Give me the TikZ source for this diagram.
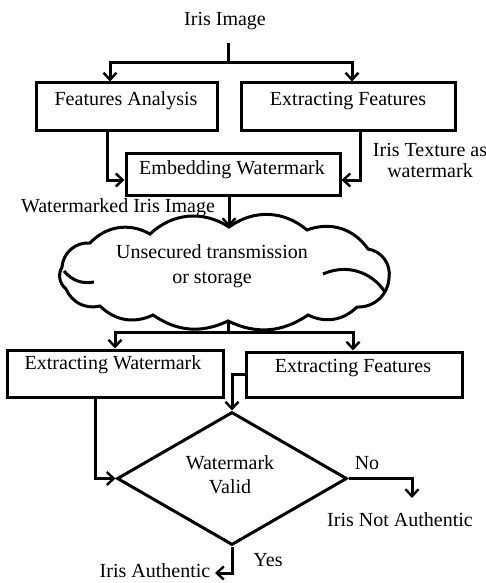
\documentclass[tikz,border=0pt]{standalone}
\usepackage{fontspec}
\setmainfont{Liberation Serif}
\usetikzlibrary{arrows.meta,shapes.geometric}
\begin{document}
\begin{tikzpicture}[x=1pt,y=-1pt,
  line width=3pt,
  every node/.style={font=\fontsize{20}{23}\selectfont},
  box/.style={draw,rectangle,inner sep=0pt},
  lbl/.style={inner sep=0pt,align=center},
  puff/.style={bend left=#1},
  puff/.default=38,
  arr/.style={-{Straight Barb[length=7pt,width=13pt,line width=2.4pt]}}]
\useasboundingbox (0,0) rectangle (486,583);
% top
\node[lbl] (img) at (225,21) {Iris Image};
\coordinate (stem1) at (228,43);
\coordinate (split1) at (228,63);
\node[box,minimum width=181pt,minimum height=47pt] (fa) at (126.5,106.5) {};
\node[lbl] (fat) at (126,101) {Features Analysis};
\node[box,minimum width=214pt,minimum height=47pt] (ef1) at (348,106.5) {};
\node[lbl] (ef1t) at (348,101) {Extracting Features};
\node[box,minimum width=214pt,minimum height=42pt] (emb) at (233,174) {};
\node[lbl] (embt) at (232,170) {Embedding Watermark};
\node[lbl] (tex) at (430,160) {Iris Texture as\\[-2pt]watermark};
\node[lbl] (wii) at (118,208) {Watermarked Iris Image};
% cloud
\coordinate (ctop) at (229,227);
\coordinate (cbot) at (228,321);
\draw (62,267) to[puff=45] (90,243) to[puff] (150,234) to[puff] (ctop)
  to[puff] (307,230) to[puff] (368,249) to[puff=45] (389,278)
  to[puff=45] (357,307) to[puff=35] (308,315) to[puff=30] (cbot)
  to[puff=30] (153,315) to[puff=35] (100,306) to[puff=40] (66,289) to[puff=40] cycle;
\draw (64,271) to[bend right=30] (94,282);
\draw (323,274) to[bend left=40] (385,292);
\node[lbl] (cloudt) at (212,266) {Unsecured transmission\\[2pt]or storage};
\coordinate (split2) at (228,332);
\node[box,minimum width=216pt,minimum height=47pt] (ew) at (115,373.5) {};
\node[lbl] (ewt) at (113,365) {Extracting Watermark};
\node[box,minimum width=216pt,minimum height=45pt] (ef2) at (354,374.5) {};
\node[lbl] (ef2t) at (353,368) {Extracting Features};
\node[diamond,draw,inner sep=0pt,minimum width=230pt,minimum height=133pt] (dia) at (232,478.5) {};
\node[lbl] (diat) at (230,475) {Watermark\\[1pt]Valid};
\node[lbl] (no) at (367,463) {No};
\node[lbl] (nia) at (400,520) {Iris Not Authentic};
\node[lbl] (yes) at (268,560) {Yes};
\node[lbl] (ia) at (155,571) {Iris Authentic};
\coordinate (noend) at (412,498);
\coordinate (yesend) at (215,573);
% connectors
\draw (stem1) -- (split1);
\draw[arr] (split1) -| ([xshift=-16.5pt]fa.north);
\draw[arr] (split1) -| ([xshift=4pt]ef1.north);
\draw[arr] ([xshift=-19.5pt]fa.south) |- ([yshift=-6pt]emb.west);
\draw[arr] ([xshift=12pt]ef1.south) |- ([yshift=-6pt]emb.east);
\draw[arr] (emb.south -| ctop) -- (ctop);
\draw (cbot) -- (split2);
\draw[arr] (split2) -| (ew.north);
\draw[arr] (split2) -| ([xshift=-1pt]ef2.north);
\draw[arr] (ef2.west) -| (dia.north);
\draw[arr] ([xshift=-20pt]ew.south) |- (dia.west);
\draw[arr] (dia.east) -| (noend);
\draw[arr] (dia.south) |- (yesend);
\end{tikzpicture}
\end{document}
